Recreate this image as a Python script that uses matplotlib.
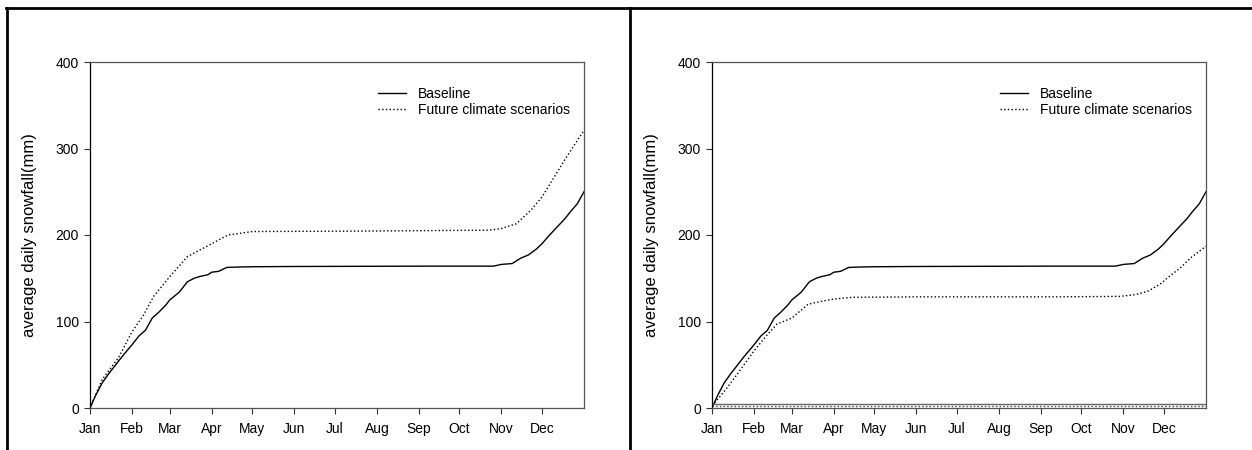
import matplotlib
matplotlib.use("Agg")
import matplotlib.pyplot as plt
from matplotlib.lines import Line2D

plt.rcParams["font.family"] = ["Liberation Sans", "DejaVu Sans"]

# Month labels and their starting day of year
months = ["Jan", "Feb", "Mar", "Apr", "May", "Jun",
          "Jul", "Aug", "Sep", "Oct", "Nov", "Dec"]
month_start_day = [0, 31, 59, 90, 120, 151, 181, 212, 243, 273, 304, 334]
y_ticks = [0, 100, 200, 300, 400]

# Cumulative snowfall, baseline period
baseline_day = [0, 4, 9, 14, 18, 24, 31, 36, 41, 46, 51, 56, 59, 66, 72, 77,
                81, 87, 90, 95, 101, 110, 120, 150, 200, 250, 298, 304, 312,
                318, 324, 330, 334, 339, 345, 351, 355, 360, 365]
baseline_mm = [0, 14, 29, 40, 48, 60, 73, 83, 90, 104, 111, 119, 125, 134,
               146, 150, 152, 154, 157, 158, 162.5, 163, 163.3, 163.6, 163.8,
               164, 164, 166, 167, 173, 177, 184, 190, 199, 209, 219, 227,
               236, 250]

# Future scenario, first site (wetter)
future_a_day = [0, 9, 21, 31, 39, 47, 59, 72, 90, 102, 120, 200, 295, 304,
                315, 326, 334, 343, 352, 365]
future_a_mm = [0, 33, 58, 88, 106, 129, 152, 175, 190, 200, 204, 204.5,
               205.6, 207.5, 213, 229, 244, 267, 290, 321]

# Future scenario, second site (drier)
future_b_day = [0, 2, 11, 20, 31, 41, 48, 59, 71, 80, 90, 104, 150, 250,
                301, 313, 322, 331, 337, 346, 354, 365]
future_b_mm = [3, 6, 23, 42, 66, 85, 97, 104, 120, 123, 126, 128, 128.5,
               128.5, 129, 131, 135, 143, 151, 162, 174, 187]

# Near-zero reference series, second site
flat_day = [0, 365]
flat_baseline_mm = [4.5, 4.5]
flat_future_mm = [2, 2]

fig = plt.figure(figsize=(12.52, 4.5), dpi=100)

ax_w = 494 / 1252
ax_h = 346 / 450
ax_b = 42 / 450
ax1 = fig.add_axes([90 / 1252, ax_b, ax_w, ax_h])
ax2 = fig.add_axes([712 / 1252, ax_b, ax_w, ax_h])


def style(ax):
    ax.set_xlim(0, 365)
    ax.set_ylim(0, 400)
    ax.set_xticks(month_start_day)
    ax.set_xticklabels(months)
    ax.set_yticks(y_ticks)
    ax.tick_params(axis="both", direction="out", length=4, width=0.8,
                   labelsize=10, color="#333333")
    ax.tick_params(axis="x", pad=6)
    ax.tick_params(axis="y", pad=4)
    for side in ["top", "right", "bottom"]:
        ax.spines[side].set_color("#555555")
        ax.spines[side].set_linewidth(0.9)
    ax.spines["left"].set_color("black")
    ax.spines["left"].set_linewidth(0.9)
    ax.set_ylabel("average daily snowfall(mm)", fontsize=12)
    ax.yaxis.set_label_coords(-0.107, 0.5)
    ax.legend(loc="upper left", bbox_to_anchor=(0.583, 0.927),
              frameon=False, fontsize=10, handlelength=2.0,
              handletextpad=0.85, labelspacing=0.1, borderpad=0,
              borderaxespad=0)


ax1.plot(baseline_day, baseline_mm, color="black", lw=1.0, label="Baseline")
ax1.plot(future_a_day, future_a_mm, color="black", lw=1.0, ls=":",
         label="Future climate scenarios")
style(ax1)

ax2.plot(baseline_day, baseline_mm, color="black", lw=1.0, label="Baseline")
ax2.plot(future_b_day, future_b_mm, color="black", lw=1.0, ls=":",
         label="Future climate scenarios")
ax2.plot(flat_day, flat_baseline_mm, color="#666666", lw=1.0)
ax2.plot(flat_day, flat_future_mm, color="#444444", lw=1.0, ls=":")
style(ax2)

# Panel frame lines
frame_kw = dict(color="black", lw=2.0, transform=fig.transFigure)
fig.add_artist(Line2D([6 / 1252, 1.0], [1 - 7.5 / 450, 1 - 7.5 / 450], **frame_kw))
fig.add_artist(Line2D([6.5 / 1252, 6.5 / 1252], [0, 1 - 7.5 / 450], **frame_kw))
fig.add_artist(Line2D([629.5 / 1252, 629.5 / 1252], [0, 1 - 7.5 / 450], **frame_kw))

fig.savefig("out.png", dpi=100)
